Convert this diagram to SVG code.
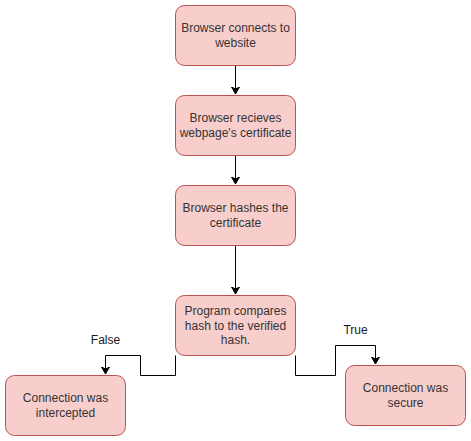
<svg xmlns="http://www.w3.org/2000/svg" width="471" height="441" viewBox="0 0 471 441">
<style>
.box{fill:#f8cecc;stroke:#b85450;stroke-width:1}
.t{font-family:"Liberation Sans",Arial,sans-serif;font-size:12px;fill:#333333;text-anchor:middle}
.lbl{font-family:"Liberation Sans",Arial,sans-serif;font-size:12px;fill:#1a1a1a;text-anchor:middle}
.e{fill:none;stroke:#000;stroke-width:1}
</style>
<defs>
<marker id="arr" markerWidth="10" markerHeight="10" refX="7" refY="4" orient="auto" markerUnits="userSpaceOnUse">
<path d="M0,0 L7,4 L0,8 L2,4 Z" fill="#000" stroke="#000" stroke-width="1"/>
</marker>
</defs>
<g id="connectors">
<path class="e" d="M235.5,65.5 V94" marker-end="url(#arr)"/>
<path class="e" d="M235.5,155.5 V184" marker-end="url(#arr)"/>
<path class="e" d="M235.5,245.5 V294" marker-end="url(#arr)"/>
<path class="e" d="M175.5,355.5 V375.5 H140.5 V355.5 H105.5 V374" marker-end="url(#arr)"/>
<path class="e" d="M295.5,355.5 V375.5 H335.5 V345.5 H375.5 V364" marker-end="url(#arr)"/>
<text class="lbl" x="105.5" y="344">False</text>
<text class="lbl" x="355.5" y="334">True</text>
</g>
<g id="n1">
<rect class="box" x="175.5" y="5.5" width="120" height="60" rx="9"/>
<text class="t" x="235.5" y="32">Browser connects to</text>
<text class="t" x="235.5" y="47">website</text>
</g>
<g id="n2">
<rect class="box" x="175.5" y="95.5" width="120" height="60" rx="9"/>
<text class="t" x="235.5" y="122">Browser recieves</text>
<text class="t" x="235.5" y="137">webpage's certificate</text>
</g>
<g id="n3">
<rect class="box" x="175.5" y="185.5" width="120" height="60" rx="9"/>
<text class="t" x="235.5" y="212">Browser hashes the</text>
<text class="t" x="235.5" y="227">certificate</text>
</g>
<g id="n4">
<rect class="box" x="175.5" y="295.5" width="120" height="60" rx="9"/>
<text class="t" x="235.5" y="315">Program compares</text>
<text class="t" x="235.5" y="329.5">hash to the verified</text>
<text class="t" x="235.5" y="344">hash.</text>
</g>
<g id="n5">
<rect class="box" x="5.5" y="375.5" width="120" height="60" rx="9"/>
<text class="t" x="65.5" y="402">Connection was</text>
<text class="t" x="65.5" y="417">intercepted</text>
</g>
<g id="n6">
<rect class="box" x="345.5" y="365.5" width="120" height="60" rx="9"/>
<text class="t" x="405.5" y="392">Connection was</text>
<text class="t" x="405.5" y="407">secure</text>
</g>
</svg>
